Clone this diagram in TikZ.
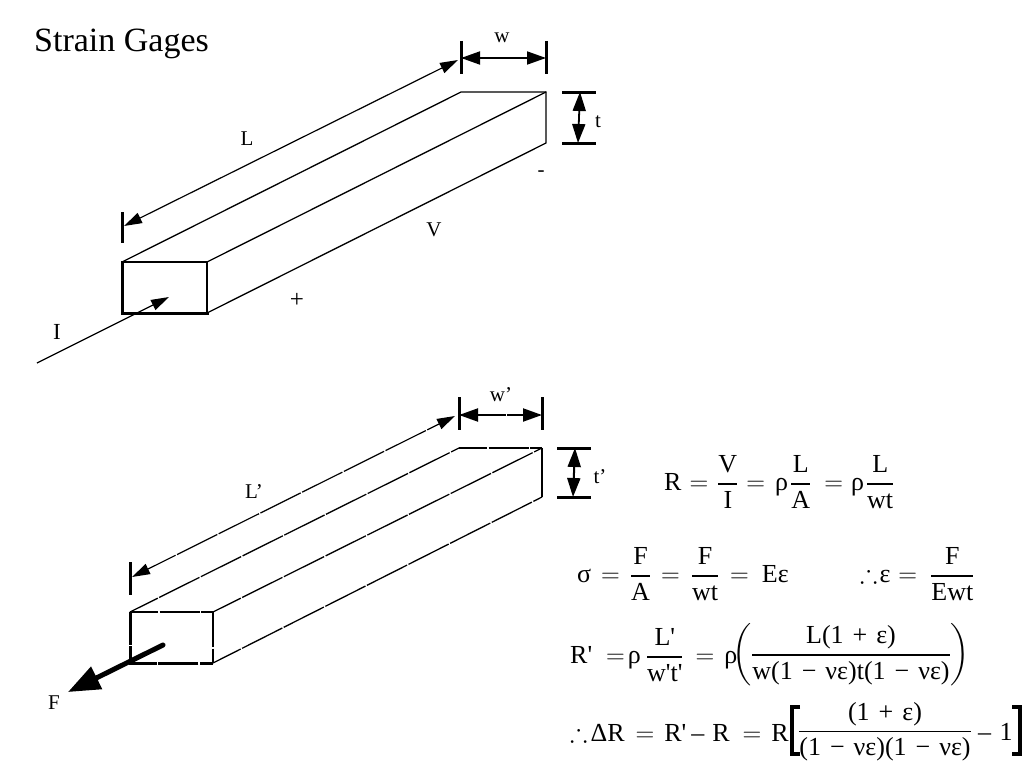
\documentclass[tikz,border=0pt]{standalone}
\usepackage{fix-cm}
\usepackage{amsmath,amssymb}
\usepackage{fontspec}
\setmainfont{Liberation Serif}
\usetikzlibrary{arrows.meta}
\newcommand{\tx}[1]{\text{#1}}
\newcommand{\fr}[2]{\genfrac{}{}{1.5pt}{0}{\text{#1}}{\text{#2}}}
\newcommand{\eq}[2]{\hspace{#1pt}{=}\hspace{#2pt}}
\newcommand{\gp}{\hspace{9pt}}
\newcommand{\pr}{\textquotesingle}
\tikzset{
  % Specifications for style of nodes and lines:
  lbl/.style = {
    inner sep=0pt,
    font=\fontsize{21}{25}\selectfont
  },
  eqn/.style = {
    inner sep=0pt,
    anchor=west,
    font=\fontsize{26}{30}\selectfont
  },
  barline/.style = {
    line width=1.3pt
  },
  face/.style = {
    line width=3pt,
    line cap=rect
  },
  tickline/.style = {
    line width=3pt
  },
  dimline/.style = {
    line width=1.8pt,
    {Triangle[length=19pt,width=13pt]}-{Triangle[length=19pt,width=13pt]}
  },
  lenline/.style = {
    line width=1.2pt,
    {Triangle[length=18pt,width=11pt]}-{Triangle[length=18pt,width=11pt]}
  },
  % white breaks of the lower bar
  cutS/.style = {
    dash pattern=on 45pt off 1.6pt,
    dash phase=14pt
  },
  cutH/.style = {
    dash pattern=on 40pt off 1.6pt,
    dash phase=12pt
  },
  cutV/.style = {
    dash pattern=on 35pt off 1.6pt on 100pt off 0pt
  }
}
\begin{document}
\begin{tikzpicture}[x=1pt,y=-1pt]
    \useasboundingbox (0,0) rectangle (1024,768);
    % Upper bar, corners
    \coordinate (fA) at (122,262);
    \coordinate (fB) at (207,262);
    \coordinate (fC) at (207,313);
    \coordinate (fD) at (122,313);
    \coordinate (bA) at (461,92);
    \coordinate (bB) at (546,92);
    \coordinate (bC) at (546,143);
    \draw[barline] (fA) -- (bA) -- (bB) -- (bC) -- (fC);
    \draw[barline] (fB) -- (bB);
    \draw[barline] (fB) -- (fC);
    \draw[line width=1.6pt] (fA) -- (fB);
    \draw[face] (fC) -- (fD) -- (fA);
    % Upper bar, dimensions
    \coordinate (lenT) at (122,212);
    \coordinate (lenB) at (122,243);
    \coordinate (lenE) at (124,226);
    \coordinate (lenS) at (458,60);
    \draw[tickline] (lenT) -- (lenB);
    \draw[lenline] (lenE) -- (lenS);
    \coordinate (wL) at (461,41);
    \coordinate (wLb) at (461,74);
    \coordinate (wR) at (546,41);
    \coordinate (wRb) at (546,74);
    \coordinate (wS) at (461,58);
    \coordinate (wE) at (546,58);
    \draw[tickline] (wL) -- (wLb);
    \draw[tickline] (wR) -- (wRb);
    \draw[dimline] (wS) -- (wE);
    \coordinate (tA) at (562,92);
    \coordinate (tAe) at (596,92);
    \coordinate (tB) at (562,143);
    \coordinate (tBe) at (596,143);
    \coordinate (tS) at (580,92);
    \coordinate (tE) at (578,143);
    \draw[tickline] (tA) -- (tAe);
    \draw[tickline] (tB) -- (tBe);
    \draw[dimline] (tS) -- (tE);
    % Current arrow
    \coordinate (curS) at (37,363);
    \coordinate (curE) at (169,297);
    \draw[line width=1.3pt,-{Triangle[length=18pt,width=11pt]}] (curS) -- (curE);
    % Upper labels
    \node[lbl, font=\fontsize{34}{38}\selectfont, anchor=west] (title) at (34,44) {Strain Gages};
    \node[lbl] (labL) at (247,139) {L};
    \node[lbl] (labV) at (434,230) {V};
    \node[lbl, font=\fontsize{25}{28}\selectfont] (labP) at (297,300) {+};
    \node[lbl] (labM) at (541,174) {-};
    \node[lbl, font=\fontsize{23}{25}\selectfont] (labI) at (57,332) {I};
    \node[lbl] (labw) at (502,38) {w};
    \node[lbl] (labt) at (598,122) {t};
    % Lower bar, corners
    \coordinate (gA) at (130,612);
    \coordinate (gB) at (213,612);
    \coordinate (gC) at (213,663);
    \coordinate (gD) at (130,663);
    \coordinate (hA) at (459,448);
    \coordinate (hB) at (542,448);
    \coordinate (hC) at (542,497);
    \draw[barline,cutS] (gA) -- (hA);
    \draw[barline,cutH] (hA) -- (hB);
    \draw[barline] (hB) -- (hC);
    \draw[barline,cutS] (gC) -- (hC);
    \draw[barline,cutS] (gB) -- (hB);
    \draw[line width=2pt,cutV] (gB) -- (gC);
    \draw[line width=2.4pt,cutH] (gA) -- (gB);
    \draw[line width=3pt,dash pattern=on 13pt off 1.6pt on 40pt off 1.6pt on 43.6pt off 1.6pt on 100pt off 0pt] (gC) -- (gD) -- (gA);
    % Lower bar, dimensions
    \coordinate (lenpT) at (130,562);
    \coordinate (lenpB) at (130,595);
    \coordinate (lenpE) at (132,577);
    \coordinate (lenpS) at (455,416);
    \draw[tickline] (lenpT) -- (lenpB);
    \draw[lenline,cutS] (lenpE) -- (lenpS);
    \coordinate (wpL) at (459,397);
    \coordinate (wpLb) at (459,430);
    \coordinate (wpR) at (542,397);
    \coordinate (wpRb) at (542,430);
    \coordinate (wpS) at (459,415);
    \coordinate (wpE) at (542,415);
    \draw[tickline] (wpL) -- (wpLb);
    \draw[tickline] (wpR) -- (wpRb);
    \draw[dimline,line width=2pt,cutH] (wpS) -- (wpE);
    \coordinate (tpA) at (557,448);
    \coordinate (tpAe) at (591,448);
    \coordinate (tpB) at (557,497);
    \coordinate (tpBe) at (591,497);
    \coordinate (tpS) at (575,448);
    \coordinate (tpE) at (573,497);
    \draw[tickline] (tpA) -- (tpAe);
    \draw[tickline] (tpB) -- (tpBe);
    \draw[dimline,line width=2pt] (tpS) -- (tpE);
    % Force arrow
    \coordinate (forS) at (163,645);
    \coordinate (forE) at (68,692);
    \draw[line width=5pt,line cap=round,-{Triangle[length=32pt,width=24pt]}] (forS) -- (forE);
    % Lower labels
    \node[lbl] (labLp) at (254,492) {L'};
    \node[lbl] (labwp) at (501,395) {w'};
    \node[lbl] (labtp) at (600,477) {t'};
    \node[lbl] (labF) at (54,703) {F};
    % Formulas
    \node[eqn] (eqR) at (664,482) {$\tx{R}\eq{8}{9}\fr{V}{I}\eq{8}{10}\tx{ρ}\hspace{2pt}\fr{L}{A}\eq{13}{8}\tx{ρ}\hspace{2pt}\fr{L}{wt}$};
    \node[eqn] (eqS) at (577,574) {$\tx{σ}\eq{10}{10}\fr{F}{A}\eq{10}{11}\fr{F}{wt}\eq{11}{13}\tx{Eε}$};
    \node[eqn] (eqE) at (860,574) {${\therefore}\hspace{2pt}\tx{ε}\eq{8}{13}\fr{F}{Ewt}$};
    \node[eqn] (eqRp) at (570,655) {$\tx{R\pr}\eq{14}{3}\tx{ρ}\hspace{5pt}\fr{L\pr}{w\pr t\pr}\eq{12}{10}\tx{ρ}$};
    \node[eqn, anchor=center] (eqRq) at (851,655) {$\left(\genfrac{}{}{1.2pt}{0}{\text{L(1\gp+\gp ε)}}{\text{w(1\gp−\gp νε)t(1\gp−\gp νε)}}\right)$};
    \node[eqn] (eqD) at (570,732) {${\therefore}\hspace{3pt}\tx{Δ}\tx{R}\eq{11}{10}\tx{R\pr}\hspace{5pt}\tx{–}\hspace{8pt}\tx{R}\eq{13}{10}\tx{R}$};
    \node[eqn, anchor=center] (eqDq) at (885,732) {$\genfrac{}{}{1.2pt}{0}{\text{(1\gp+\gp ε)}}{\text{(1\gp−\gp νε)(1\gp−\gp νε)}}$};
    \node[eqn] (eqDm) at (978,732) {– \hspace{2pt}1};
    % Large brackets
    \coordinate (brkA) at (800,707);
    \coordinate (brkB) at (792,707);
    \coordinate (brkC) at (792,754);
    \coordinate (brkD) at (800,754);
    \coordinate (brkE) at (1012,707);
    \coordinate (brkF) at (1020,707);
    \coordinate (brkG) at (1020,754);
    \coordinate (brkH) at (1012,754);
    \draw[line width=3.4pt] (brkA) -- (brkB) -- (brkC) -- (brkD);
    \draw[line width=3.4pt] (brkE) -- (brkF) -- (brkG) -- (brkH);
\end{tikzpicture}
\end{document}
